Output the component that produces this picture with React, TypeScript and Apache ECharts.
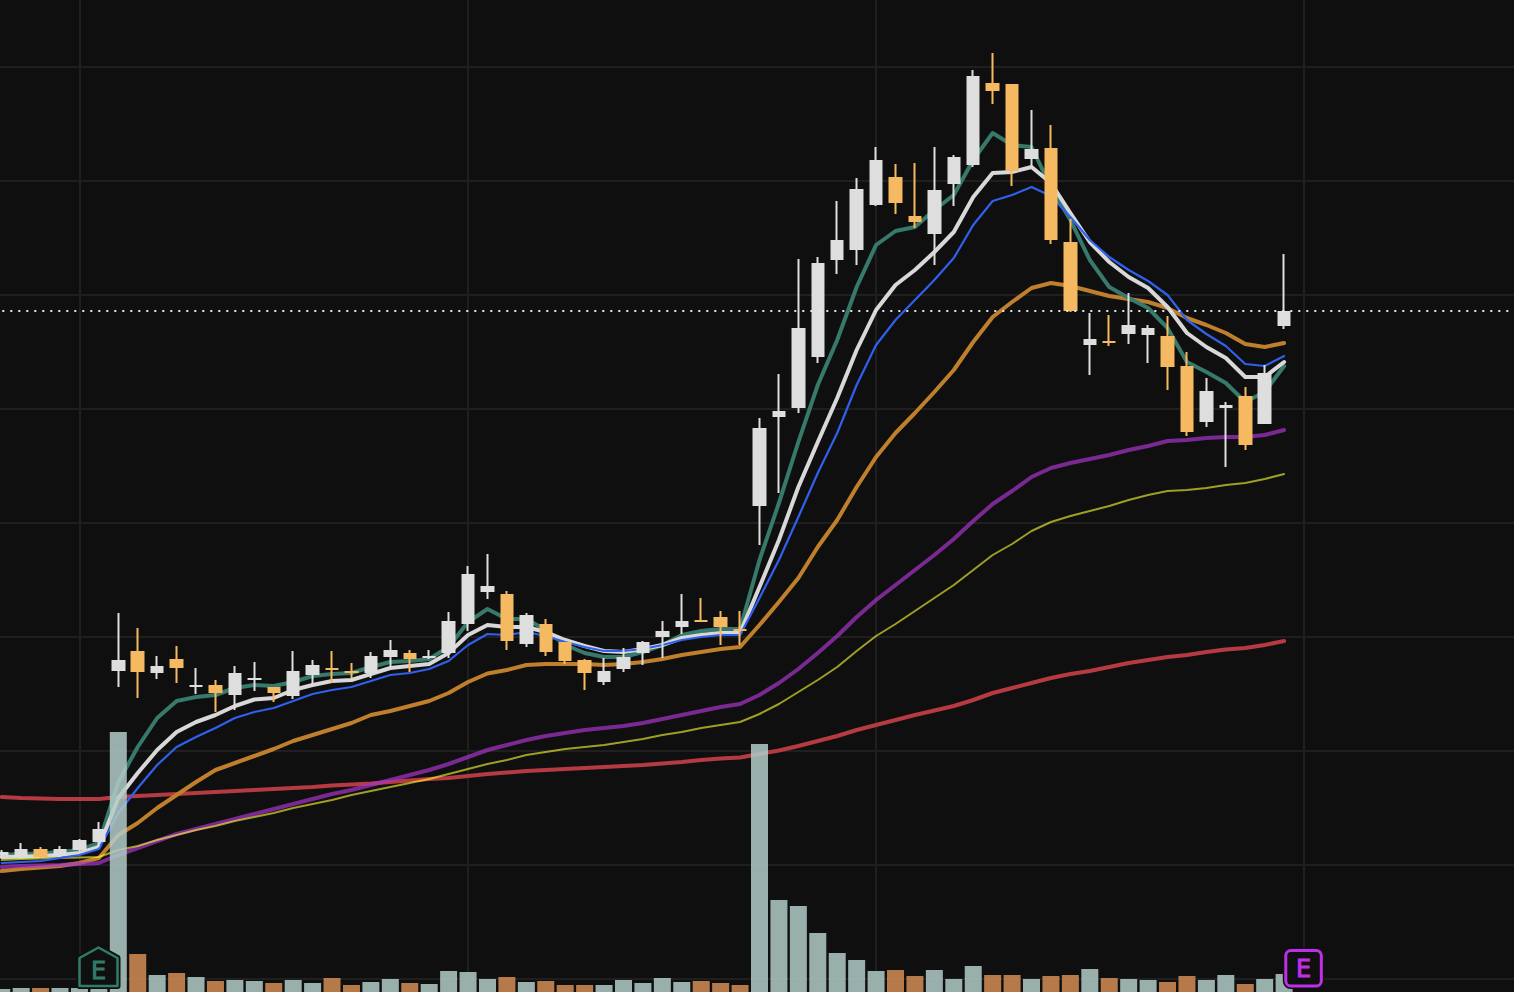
import React, { useEffect, useRef } from "react";
import * as echarts from "echarts";

const opens = [125,123,129,124,130,138,309,327,307,319,293,293,285,300,291,284,305,310,307,307,323,325,322,327,356,388,384,336,354,336,318,298,311,327,343,353,358,361,349,474,563,572,623,720,730,775,801,762,746,796,815,895,894,821,830,736,635,637,646,645,642,612,558,572,582,556,654];
const closes = [126,129,123,129,138,149,318,308,312,312,293.1,287,305,300.1,287,307,313,309.9,306.9,322,328,321,322.1,357,404,392,339,363,328,319,307,307,321,336,347,357,357.9,353,348.9,550,567,650,715,738,789,818,777,758,788,821,902,889,809,829,740,669,639,636.9,653,650,613,548,587,573,535,605,667];
const lows = [122,121,121,122,128,132,292,281,300,296,285,267,269,288,277,280,294,296,301,301,312,307,320,321,348,380,329,332,323,315,289,294,307,314,321,345,357,334,334,434,486,566,616,705,714,773,765,751,714,773,812,875,793,812,735,667,604,633,635,616,589,543,552,512,529,555,650];
const highs = [129,136,132,133,140,157,366,351,323,333,311,299,313,317,292,328,319,328,316,327,339,329,329,367,413,425,388,366,360,337,320,321,331,338,358,385,381,368,368,561,605,720,722,778,801,832,815,816,832,824,909,926,895,869,854,760,666,664,686,654,663,627,601,577,592,614,725];
const volumes = [3,4,4,4,4,3,260,38,17,19,15,11,12,11,9,12,9,14,7,10,13,9,8,21,20,13,15,10,11,7,7,7,12,9,14,10,11,9,7,248,92,86,59,39,32,21,22,16,22,13,26,17,17,13,16,17,23,14,13,12,10,16,12,17,8,13,18];
const fastLine = [124,125,125.5,127,129,136,197,232,261,278,282,284,291,294,293,297,303,305,306,312,317,318,320,332,357,370,360,360,349,334,326,322,322,327,334,344,348,350,350,419,476,537,594,639,692,734,748,752,769,784,819,846,834,832,792,759,719,692,681,671,651,617,607,596,577,587,613];
const whiteLine = [122,122.3,123,124,126,132,181,206,229,247,257,264,273,279.5,281,289,294,298,299,305,311,313,315,326,344,354,352,352,347,339,333,328,327,330,334,341,344,346,346,392,439,492,537,581,629,669,694,709,727,747,782,806,807,812,796,766,737,717,702,691,672,646,632,621,602,602,617];
const blueLine = [116,117,118,121,124,130,166,191,214,232,242,251,261,267,271,278,285,289,292,298,304,306,310,318,334,345,344,347,343,337,332,328,328,330,334,339,342,344,344,381,419,462,506,546,594,634,659,679,699,721,754,778,784,792,783,762,739,722,709,698,684,659,645,633,615,613,623];
const orangeLine = [108,110,111.5,113,116,121,144,156,171,184,197,209,216,223,230,238,244,250,256,264,268,273,278,286,297,305.5,309,314,315,315,315,314,315,317,320,324,327,330,332,354,377,401,432,459,492,522,546,566,587,609,637,662,677,691,696,693,688,683,680,677,671,661,654,646,635,632,636];
const purpleLine = [112,113,113.5,114,115,116,124,131,138,145,150,155,160,165,170,175,180,185,189,194,199,204,209,215,222,229,234,239,243,246,249,251,253,256,260,264,268,272,275,284,296,310,326,343,362,379,394,409,424,440,458,475,488,502,511,516,520,524,529,533,538,539,541,542,542,544,549];
const oliveLine = [119,120,120.5,121,121.5,122,129,133,139,144,149,153,158,162,166,171,175,179,184,188,192,196,200,205,210,215,219,224,227,230,232,234,237,240,244,247,251,254,257,265,275,287,299,312,328,343,355,368,381,394,409,424,435,448,457,463,468,473,479,484,488,489,491,494,496,500,505];
const redLine = [182,181,180.5,180,180,180,182,183,184,185,186,187,188,189,190,191,192,193.5,194.5,195.5,197,198.5,200,201,203,205,206.5,208,209,210,211,212,213,214,215.5,217,219,220.5,221.5,225,228.5,233,238,243,249,254,259,264,268.5,273,279,286,291,296,301,305,308,312,316,319,322,324,327,329.5,331,334,338];
const lastPrice = 668;
const sessionStarts = [5, 25, 46, 68];
const leadSlots = 1;
const trailSlots = 12;

const BG = "#0f0f0f";
const GRID = "#1f1f1f";
const UP = "#dedede";
const DOWN = "#f5b961";
const VOL_UP = "rgba(177,203,200,0.85)";
const VOL_DOWN = "rgba(212,141,85,0.85)";
const EARN_PAST = "#2f7d69";
const EARN_NEXT = "#bf2fea";

const categories = Array.from({ length: opens.length + leadSlots + trailSlots }, (_, i) => `T${i}`);
const pad = (arr: any[]) => [
  ...Array(leadSlots).fill("-"),
  ...arr,
  ...Array(trailSlots).fill("-"),
];

const line = (name: string, data: number[], color: string, width: number, z: number) => ({
  name,
  type: "line",
  data: pad(data),
  showSymbol: false,
  symbol: "none",
  silent: true,
  z,
  lineStyle: { color, width, cap: "round", join: "round" },
});

export default function App() {
  const ref = useRef<HTMLDivElement>(null);
  useEffect(() => {
    document.body.style.margin = "0";
    document.body.style.background = BG;
    const chart = echarts.init(ref.current!, undefined, { renderer: "svg" });
    const sharedX = {
      type: "category",
      data: categories,
      boundaryGap: false,
      axisLine: { show: false },
      axisTick: { show: false },
      axisLabel: { show: false },
    };
    const housePts = [
      [98.5, 947.5], [117.5, 958], [117.5, 986], [79.5, 986], [79.5, 958],
    ];
    chart.setOption({
      animation: false,
      backgroundColor: BG,
      tooltip: { show: false },
      grid: [
        { left: -17.7, width: 1534.97, top: -47, bottom: 13, outerBoundsMode: "none" },
        { left: -17.7, width: 1534.97, top: 0, bottom: 0, outerBoundsMode: "none" },
      ],
      xAxis: [
        {
          ...sharedX,
          gridIndex: 0,
          splitLine: {
            show: true,
            interval: (i: number) => sessionStarts.includes(i),
            lineStyle: { color: GRID, width: 2 },
          },
        },
        { ...sharedX, gridIndex: 1, splitLine: { show: false } },
      ],
      yAxis: [
        {
          type: "value",
          gridIndex: 0,
          min: 0,
          max: 1026,
          interval: 114,
          axisLine: { show: false },
          axisTick: { show: false },
          axisLabel: { show: false },
          splitLine: { show: true, lineStyle: { color: GRID, width: 2 } },
        },
        {
          type: "value",
          gridIndex: 1,
          min: 0,
          max: 992,
          axisLine: { show: false },
          axisTick: { show: false },
          axisLabel: { show: false },
          splitLine: { show: false },
        },
      ],
      series: [
        {
          name: "Last",
          type: "line",
          data: [],
          z: 1,
          silent: true,
          markLine: {
            silent: true,
            symbol: "none",
            label: { show: false },
            lineStyle: { color: "#e6e6e6", width: 2, type: [2, 6], dashOffset: 4 },
            data: [{ yAxis: lastPrice }],
          },
        },
        line("MA200", redLine, "#b63a42", 4, 2),
        line("MA20", orangeLine, "#bf7f2d", 4, 2),
        line("MA50", purpleLine, "rgba(168,52,202,0.7)", 4, 2),
        line("MA5", fastLine, "#37796b", 4, 2),
        line("MA8", whiteLine, "#d8d8d8", 4, 2),
        line("MA100", oliveLine, "rgba(255,255,51,0.6)", 2, 2),
        line("MA10", blueLine, "#2f60ee", 2.2, 2),
        {
          name: "Price",
          type: "candlestick",
          z: 3,
          silent: true,
          barWidth: 12,
          clip: false,
          data: pad(opens.map((o, i) => [o, closes[i], lows[i], highs[i]])),
          itemStyle: {
            color: UP,
            color0: DOWN,
            borderColor: UP,
            borderColor0: DOWN,
            borderWidth: 2,
          },
        },
        {
          name: "Volume",
          type: "bar",
          xAxisIndex: 1,
          yAxisIndex: 1,
          z: 4,
          silent: true,
          barWidth: 17,
          data: pad(
            volumes.map((v, i) => ({
              value: v,
              itemStyle: { color: closes[i] >= opens[i] ? VOL_UP : VOL_DOWN },
            }))
          ),
        },
      ],
      graphic: [
        {
          type: "polygon",
          z: 20,
          shape: { points: housePts },
          style: { fill: BG, stroke: BG, lineWidth: 6, lineJoin: "round" },
        },
        {
          type: "polygon",
          z: 21,
          shape: { points: housePts },
          style: { fill: BG, stroke: EARN_PAST, lineWidth: 2.5, lineJoin: "round" },
        },
        {
          type: "text",
          z: 22,
          x: 98.5,
          y: 970.5,
          style: {
            text: "E",
            fill: EARN_PAST,
            stroke: EARN_PAST,
            lineWidth: 0.9,
            font: '24px "DejaVu Sans"',
            align: "center",
            verticalAlign: "middle",
          },
        },
        {
          type: "rect",
          z: 20,
          shape: { x: 1285.8, y: 950.5, width: 35.5, height: 35.5, r: 5 },
          style: { fill: BG, stroke: BG, lineWidth: 6 },
        },
        {
          type: "rect",
          z: 21,
          shape: { x: 1285.8, y: 950.5, width: 35.5, height: 35.5, r: 5 },
          style: { fill: BG, stroke: EARN_NEXT, lineWidth: 3 },
        },
        {
          type: "text",
          z: 22,
          x: 1303.5,
          y: 968.5,
          style: {
            text: "E",
            fill: EARN_NEXT,
            stroke: EARN_NEXT,
            lineWidth: 0.9,
            font: '24px "DejaVu Sans"',
            align: "center",
            verticalAlign: "middle",
          },
        },
      ],
    });
    return () => chart.dispose();
  }, []);
  return (
    <div
      ref={ref}
      style={{ position: "absolute", left: 0, top: 0, width: 1514, height: 992, background: BG }}
    />
  );
}
